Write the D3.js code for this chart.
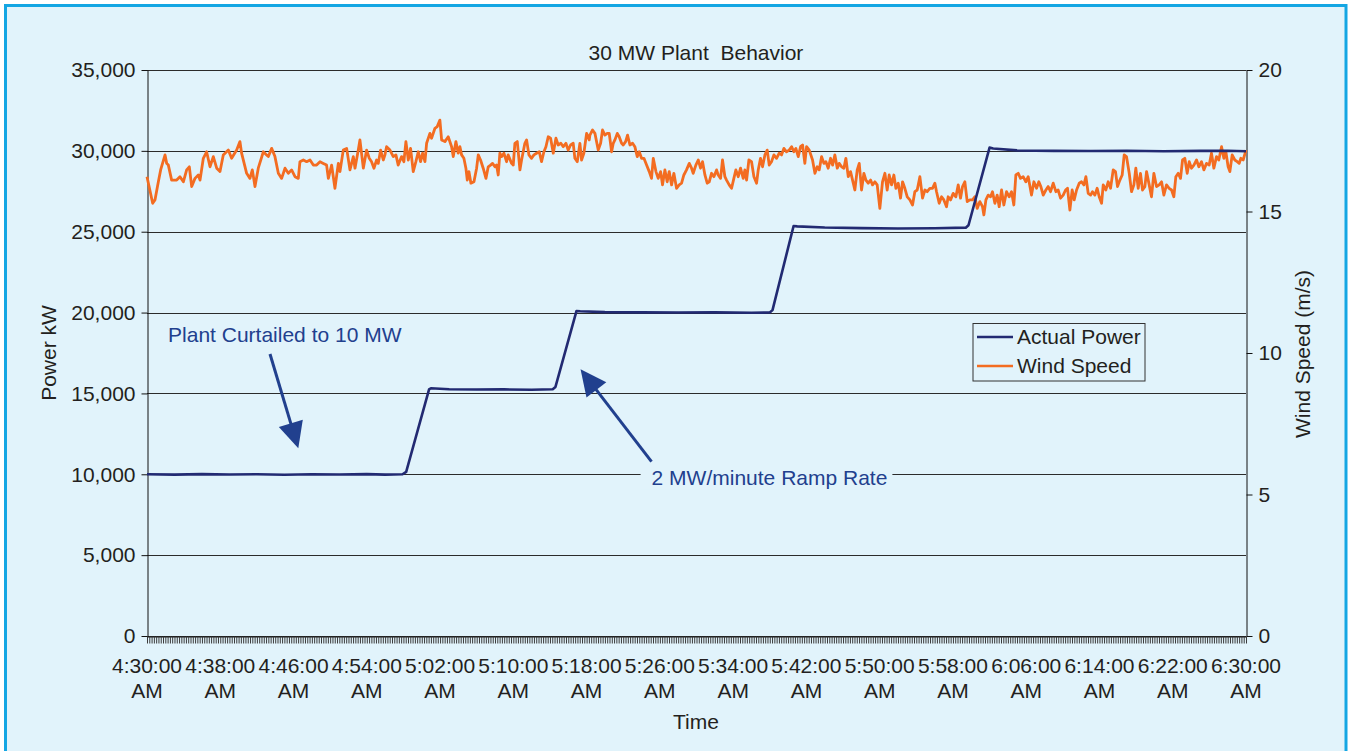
<!DOCTYPE html>
<html>
<head>
<meta charset="utf-8">
<script src="https://cdn.jsdelivr.net/npm/d3@7"></script>
<style>
  html, body { margin: 0; padding: 0; background: #ffffff; }
  svg { display: block; font-family: "Liberation Sans", Arial, Helvetica, sans-serif; }
  text { fill: #231f20; }
</style>
</head>
<body>
<svg id="chart" width="1350" height="751"></svg>
<script>
// ---- Data -------------------------------------------------------------
// Time is minutes after 4:30:00 AM.
const timeTickMinutes = [0, 8, 16, 24, 32, 40, 48, 56, 64, 72, 80, 88, 96, 104, 112, 120];
const timeTickLabels = ["4:30:00 AM", "4:38:00 AM", "4:46:00 AM", "4:54:00 AM", "5:02:00 AM",
  "5:10:00 AM", "5:18:00 AM", "5:26:00 AM", "5:34:00 AM", "5:42:00 AM", "5:50:00 AM",
  "5:58:00 AM", "6:06:00 AM", "6:14:00 AM", "6:22:00 AM", "6:30:00 AM"];
const powerTicks = [0, 5000, 10000, 15000, 20000, 25000, 30000, 35000];
const windTicks = [0, 5, 10, 15, 20];

// Actual plant output, kW
const actualPower = [
  [0, 10000], [3, 9980], [6, 10010], [9, 9990], [12, 10000], [15, 9970], [18, 10000], [21, 9990],
  [24, 10010], [26, 9980], [27.9, 10000],
  [28.3, 10150], [30.8, 15250], [31, 15320], [33, 15260], [36, 15240], [39, 15250], [42, 15230], [44.3, 15260],
  [44.6, 15400], [46.9, 20100], [47.3, 20080], [50, 20030], [54, 20010], [58, 20000], [62, 20010], [66, 19990], [68.0, 20000],
  [68.3, 20150], [70.6, 25350], [71, 25330], [74, 25260], [78, 25220], [82, 25200], [86, 25210], [89.4, 25250],
  [89.7, 25400], [92.0, 30200], [92.4, 30150], [95, 30030], [99, 30000], [103, 29990], [107, 30010],
  [111, 29980], [115, 30000], [118, 30010], [120, 29980]
];

// Wind speed at hub height, m/s
const windSpeed = [
  [0,16.23],[0.62,15.29],[0.87,15.41],[1.24,16.05],[1.49,16.47],[1.97,17.0],[2.15,16.70],[2.33,16.64],[2.69,16.11],[3.24,16.11],
  [3.60,16.23],[3.97,16.05],[4.33,16.47],[4.62,16.58],[4.88,15.88],[5.24,16.17],[5.60,16.29],[5.79,16.11],[6.15,16.88],[6.51,17.11],
  [6.88,16.58],[7.24,16.94],[7.61,16.53],[7.97,16.41],[8.33,17.0],[8.88,17.17],[9.24,16.88],[9.79,17.17],[10.15,17.47],[10.33,17.06],
  [10.88,16.35],[11.24,16.17],[11.50,16.47],[11.79,15.88],[12.15,16.53],[12.70,17.11],[13.06,17.0],[13.25,16.94],[13.61,17.23],[13.97,16.94],
  [14.34,16.35],[14.70,16.17],[15.07,16.53],[15.43,16.35],[15.79,16.47],[16.16,16.23],[16.52,16.17],[16.70,16.76],[17.07,16.82],[17.43,16.76],
  [17.80,16.82],[18.16,16.64],[18.52,16.64],[18.89,16.76],[19.25,16.70],[19.61,16.64],[19.80,16.17],[20.16,16.64],[20.52,15.82],[20.89,16.70],
  [21.07,16.41],[21.43,17.17],[21.80,17.23],[22.16,16.47],[22.53,16.94],[22.71,16.53],[23.07,17.17],[23.25,17.53],[23.62,16.53],[23.98,17.17],
  [24.27,16.88],[24.52,16.76],[24.78,16.53],[25.07,16.82],[25.25,16.70],[25.51,17.17],[25.80,16.82],[25.98,17.0],[26.16,17.29],[26.53,17.17],
  [26.89,16.94],[27.18,17.0],[27.43,16.64],[27.80,16.94],[28.05,16.76],[28.27,17.47],[28.53,16.82],[28.78,17.23],[29.07,16.41],[29.36,16.76],
  [29.62,17.11],[29.87,16.76],[30.09,17.06],[30.35,16.76],[30.53,17.41],[30.89,17.76],[31.07,17.59],[31.44,17.94],[31.69,18.0],[31.98,18.23],
  [32.17,17.53],[32.53,17.47],[32.89,17.64],[33.26,17.29],[33.44,16.94],[33.73,17.47],[33.98,17.06],[34.17,17.29],[34.35,17.0],[34.60,16.88],
  [34.82,16.53],[34.97,16.11],[35.15,16.41],[35.37,16.0],[35.70,16.05],[35.99,16.53],[36.17,17.0],[36.42,16.82],[36.71,16.53],[37.01,16.17],
  [37.26,16.58],[37.51,16.64],[37.73,16.70],[37.99,16.58],[38.17,16.64],[38.35,16.29],[38.53,17.06],[38.72,16.94],[38.97,17.06],[39.26,16.76],
  [39.44,17.0],[39.81,16.70],[39.99,16.64],[40.17,17.41],[40.43,17.47],[40.72,16.47],[40.90,16.82],[41.26,17.41],[41.45,17.53],[41.70,17.0],
  [41.99,16.88],[42.25,17.0],[42.54,17.06],[42.83,17.11],[43.08,16.76],[43.34,17.11],[43.56,17.29],[43.81,17.64],[44.07,17.59],[44.36,17.06],
  [44.65,17.59],[44.90,17.35],[45.19,17.41],[45.45,17.29],[45.74,17.41],[45.99,17.17],[46.25,17.35],[46.54,17.41],[46.72,16.88],[46.98,16.76],
  [47.27,17.41],[47.45,16.82],[47.70,17.06],[48.0,17.76],[48.29,17.53],[48.36,17.70],[48.65,17.88],[48.91,17.76],[49.27,17.17],[49.53,17.41],
  [49.74,17.88],[50.0,17.70],[50.25,17.76],[50.47,17.76],[50.73,17.11],[50.91,17.41],[51.09,17.53],[51.35,17.76],[51.56,17.64],[51.82,17.41],
  [52.0,17.35],[52.26,17.47],[52.47,17.70],[52.73,17.35],[53.02,17.41],[53.27,17.29],[53.53,16.94],[53.75,17.11],[54.0,16.88],[54.26,16.88],
  [54.55,16.64],[54.84,16.41],[55.09,16.17],[55.28,16.88],[55.57,16.41],[55.82,16.17],[56.08,16.41],[56.29,15.94],[56.55,16.47],[56.80,16.05],
  [57.02,16.41],[57.28,15.94],[57.53,16.35],[57.82,15.82],[58.11,15.94],[58.37,16.0],[58.62,16.29],[58.91,16.47],[59.21,16.70],[59.46,16.53],
  [59.64,16.35],[59.93,16.64],[60.19,16.82],[60.44,16.53],[60.66,16.76],[60.92,16.29],[61.17,16.0],[61.39,16.05],[61.64,16.35],[61.90,16.23],
  [62.19,16.47],[62.37,16.29],[62.63,16.17],[62.84,16.82],[63.10,16.23],[63.28,16.11],[63.57,15.94],[63.83,15.82],[64.08,16.17],[64.30,16.47],
  [64.56,16.23],[64.81,16.53],[65.10,16.17],[65.28,16.47],[65.47,16.11],[65.72,16.82],[66.01,16.76],[66.27,16.23],[66.56,16.0],[66.74,16.47],
  [66.99,16.88],[67.21,16.58],[67.47,17.0],[67.72,17.17],[67.94,16.64],[68.19,16.76],[68.45,17.0],[68.74,16.88],[69.03,17.06],[69.29,17.0],
  [69.54,17.23],[69.83,17.11],[70.12,17.17],[70.38,17.29],[70.63,17.11],[70.85,17.23],[71.11,16.94],[71.36,17.29],[71.58,17.35],[71.83,16.70],
  [72.02,17.29],[72.31,17.17],[72.67,16.82],[72.93,16.35],[73.18,16.58],[73.40,16.47],[73.66,16.94],[73.91,16.70],[74.13,16.76],[74.38,16.53],
  [74.64,16.88],[74.86,16.64],[75.11,17.0],[75.37,16.53],[75.58,16.70],[75.84,16.58],[76.09,16.53],[76.31,16.88],[76.57,16.23],[76.82,16.41],
  [77.04,16.11],[77.29,15.76],[77.55,16.47],[77.77,16.70],[78.02,15.76],[78.28,16.35],[78.50,16.11],[78.75,16.0],[79.01,16.11],[79.22,15.94],
  [79.48,16.05],[79.73,15.94],[80.02,15.11],[80.31,16.05],[80.57,16.35],[80.82,15.76],[81.04,16.29],[81.30,15.94],[81.55,16.29],[81.77,15.82],
  [82.03,16.0],[82.28,15.47],[82.50,16.05],[82.75,15.82],[83.01,15.52],[83.30,15.41],[83.59,15.23],[83.84,15.70],[84.10,15.76],[84.39,16.23],
  [84.68,15.47],[84.94,15.76],[85.19,15.70],[85.48,15.82],[85.77,15.82],[86.03,16.0],[86.21,15.70],[86.50,15.29],[86.76,15.52],[87.01,15.41],
  [87.30,15.17],[87.48,15.52],[87.74,15.41],[88.03,15.64],[88.32,15.52],[88.58,15.94],[88.83,15.47],[89.05,15.88],[89.30,16.05],[89.56,15.35],
  [89.85,15.41],[90.14,15.41],[90.39,15.52],[90.65,15.11],[90.94,15.35],[91.23,15.17],[91.38,14.88],[91.60,15.41],[91.85,15.58],[92.11,15.52],
  [92.32,15.70],[92.58,15.29],[92.83,15.58],[93.05,15.17],[93.31,15.76],[93.56,15.23],[93.85,15.70],[94.14,15.52],[94.40,15.70],[94.65,15.23],
  [94.87,16.29],[95.13,16.35],[95.38,16.17],[95.67,16.23],[95.96,16.05],[96.22,16.23],[96.58,15.58],[96.84,16.05],[97.13,15.82],[97.38,16.05],
  [97.60,15.88],[97.86,15.58],[98.15,15.76],[98.40,15.88],[98.66,15.70],[98.95,16.0],[99.24,15.70],[99.49,15.76],[99.75,15.47],[100.04,15.58],
  [100.30,15.76],[100.51,15.82],[100.77,15.05],[101.02,15.76],[101.24,15.41],[101.50,15.76],[101.79,16.0],[102.04,16.05],[102.30,15.94],[102.52,16.23],
  [102.77,15.64],[103.03,15.58],[103.24,15.70],[103.50,15.58],[103.75,15.82],[103.97,15.52],[104.23,15.29],[104.41,15.94],[104.70,15.76],[104.95,16.05],
  [105.21,15.82],[105.50,16.47],[105.75,16.41],[105.97,15.88],[106.23,16.11],[106.48,16.29],[106.70,17.0],[106.95,16.94],[107.25,16.35],[107.50,15.70],
  [107.76,15.94],[107.97,16.53],[108.23,15.82],[108.48,16.35],[108.70,15.76],[108.96,15.88],[109.14,16.41],[109.43,15.94],[109.68,15.52],[109.94,16.35],
  [110.23,15.88],[110.52,15.94],[110.78,16.05],[111.03,15.58],[111.32,15.94],[111.61,15.82],[111.87,15.76],[112.12,15.52],[112.34,16.23],[112.60,16.35],
  [112.85,16.17],[113.07,16.82],[113.32,16.88],[113.58,16.35],[113.80,16.76],[114.05,16.53],[114.31,16.64],[114.60,16.82],[114.85,16.58],[115.14,16.76],
  [115.40,16.47],[115.69,16.70],[115.98,16.64],[116.23,17.06],[116.49,16.53],[116.78,16.94],[117.03,16.82],[117.33,17.29],[117.58,16.88],[117.80,17.11],
  [118.05,16.58],[118.24,16.41],[118.49,17.0],[118.78,16.82],[119.04,16.76],[119.26,16.70],[119.44,16.88],[119.69,16.82],[120.0,17.17]
];

// Callouts placed in data units (minutes, kW)
const callouts = [
  { text: "Plant Curtailed to 10 MW", t: 2.3, kW: 18650, tail: [13.43, 17437], tip: [16.52, 11607] },
  { text: "2 MW/minute Ramp Rate", t: 55.1, kW: 9790, tail: [55.09, 10778], tip: [47.34, 16492], knockout: true }
];

// ---- Layout -----------------------------------------------------------
const plot = { left: 147, right: 1246, top: 70, bottom: 636 };
const BG = "#e1f3fb";
const INK = "#231f20";
const NAVY = "#222a72";
const ORANGE = "#f36c21";
const NOTE = "#21408e";

const svg = d3.select("#chart");

// Panel background with blue frame
svg.append("rect")
  .attr("x", 5.5).attr("y", 5.5).attr("width", 1340.5).attr("height", 800)
  .attr("fill", BG).attr("stroke", "#14a6e3").attr("stroke-width", 3);

const x = d3.scaleLinear().domain([0, 120]).range([plot.left, plot.right]);
const yP = d3.scaleLinear().domain([0, 35000]).range([plot.bottom, plot.top]);
const yW = d3.scaleLinear().domain([0, 20]).range([plot.bottom, plot.top]);

// Horizontal gridlines
svg.append("g").selectAll("line").data(powerTicks).join("line")
  .attr("x1", plot.left).attr("x2", plot.right)
  .attr("y1", d => Math.round(yP(d)) + 0.5).attr("y2", d => Math.round(yP(d)) + 0.5)
  .attr("stroke", "#2b2b2b").attr("stroke-width", 1);

// Left axis (power)
const gLeft = svg.append("g").attr("transform", `translate(${plot.left + 0.5},0)`)
  .call(d3.axisLeft(yP).tickValues(powerTicks).tickSize(6).tickSizeOuter(0).tickPadding(6)
    .tickFormat(d3.format(",")));
gLeft.selectAll("text").attr("font-size", 21).attr("fill", INK).style("font-family", "inherit");
gLeft.selectAll("line, path").attr("stroke", "#111");

// Right axis (wind)
const gRight = svg.append("g").attr("transform", `translate(${plot.right + 0.5},0)`)
  .call(d3.axisRight(yW).tickValues(windTicks).tickSize(6).tickSizeOuter(0).tickPadding(6));
gRight.selectAll("text").attr("font-size", 21).attr("fill", INK).style("font-family", "inherit");
gRight.selectAll("line, path").attr("stroke", "#111");

// Bottom axis: one small tick per 15-second sample
const gBottom = svg.append("g").attr("transform", `translate(0,${plot.bottom + 0.5})`)
  .call(d3.axisBottom(x).tickValues(d3.range(0, 120.001, 0.25)).tickSize(7).tickSizeOuter(0)
    .tickFormat(""));
gBottom.selectAll("line").attr("stroke", "#3a3a3a").attr("stroke-width", 1);
gBottom.select("path").attr("stroke", "#111");

// Two-line time labels
const lab = svg.append("g").attr("font-size", 21).attr("text-anchor", "middle");
lab.selectAll("text").data(timeTickMinutes).join("text")
  .attr("transform", d => `translate(${x(d)},673)`)
  .each(function (d, i) {
    const parts = timeTickLabels[i].split(" ");
    const t = d3.select(this);
    t.append("tspan").attr("x", 0).attr("y", 0).text(parts[0]);
    t.append("tspan").attr("x", 0).attr("y", 25).text(parts[1]);
  });

// Callout knockouts and text
callouts.forEach(c => {
  const t = svg.append("text")
    .attr("x", x(c.t)).attr("y", yP(c.kW)).attr("dy", "0.35em")
    .attr("font-size", 21).style("fill", NOTE).text(c.text);
  if (c.knockout) {
    const b = t.node().getBBox();
    svg.insert("rect", () => t.node())
      .attr("x", b.x - 11).attr("y", b.y).attr("width", b.width + 16).attr("height", b.height)
      .attr("fill", BG);
  }
});

// Series
const lineP = d3.line().x(d => x(d[0])).y(d => yP(d[1]));
const lineW = d3.line().x(d => x(d[0])).y(d => yW(d[1]));

svg.append("path").datum(windSpeed)
  .attr("d", lineW).attr("fill", "none").attr("stroke", ORANGE)
  .attr("stroke-width", 2.8).attr("stroke-linejoin", "round");

svg.append("path").datum(actualPower)
  .attr("d", lineP).attr("fill", "none").attr("stroke", NAVY)
  .attr("stroke-width", 2.6).attr("stroke-linejoin", "round");

// Callout arrows
callouts.forEach(c => {
  const x0 = x(c.tail[0]), y0 = yP(c.tail[1]);
  const x1 = x(c.tip[0]), y1 = yP(c.tip[1]);
  const len = Math.hypot(x1 - x0, y1 - y0);
  const ux = (x1 - x0) / len, uy = (y1 - y0) / len;
  const headLen = 26, halfW = 12.5;
  const bx = x1 - ux * headLen, by = y1 - uy * headLen;
  svg.append("line")
    .attr("x1", x0).attr("y1", y0).attr("x2", bx + ux * 2).attr("y2", by + uy * 2)
    .attr("stroke", NOTE).attr("stroke-width", 3);
  svg.append("path")
    .attr("d", `M${x1},${y1}L${bx - uy * halfW},${by + ux * halfW}L${bx + uy * halfW},${by - ux * halfW}Z`)
    .attr("fill", NOTE);
});

// Title and axis titles
svg.append("text").attr("x", 696).attr("y", 60).attr("text-anchor", "middle")
  .attr("font-size", 21).style("white-space", "pre").text("30 MW Plant  Behavior");
svg.append("text").attr("x", 696).attr("y", 729).attr("text-anchor", "middle")
  .attr("font-size", 21).text("Time");
svg.append("text").attr("transform", "translate(56,353) rotate(-90)").attr("text-anchor", "middle")
  .attr("font-size", 21).text("Power kW");
svg.append("text").attr("transform", "translate(1310,354) rotate(-90)").attr("text-anchor", "middle")
  .attr("font-size", 21).text("Wind Speed (m/s)");

// Legend
const legendItems = [
  { name: "Actual Power", color: NAVY },
  { name: "Wind Speed", color: ORANGE }
];
const lg = svg.append("g").attr("transform", "translate(973,323.5)");
lg.append("rect").attr("width", 172).attr("height", 57.5)
  .attr("fill", "none").attr("stroke", "#333").attr("stroke-width", 1);
const li = lg.selectAll("g").data(legendItems).join("g")
  .attr("transform", (d, i) => `translate(0,${13.5 + i * 29})`);
li.append("line").attr("x1", 4).attr("x2", 40)
  .attr("stroke", d => d.color).attr("stroke-width", 2.6);
li.append("text").attr("x", 44).attr("dy", "0.35em").attr("font-size", 21).text(d => d.name);
</script>
</body>
</html>
